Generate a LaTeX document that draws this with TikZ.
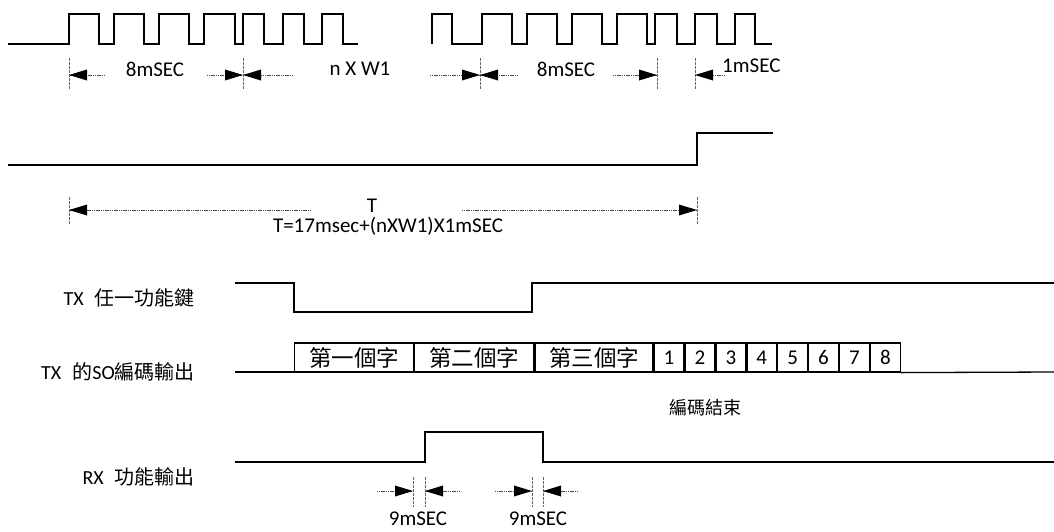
\documentclass[tikz,border=0pt]{standalone}
\usepackage{fontspec}
\setmainfont{Carlito}
\newfontfamily\cjk{Noto Sans CJK TC}
\newcommand\headL[1]{\fill[black] (#1) -- ++(18,-5.5) -- ++(0,11) -- cycle;}
\newcommand\headR[1]{\fill[black] (#1) -- ++(-18,-5.5) -- ++(0,11) -- cycle;}
\tikzset{
  sig/.style={draw=black, line width=1.3pt, line join=miter},
  tickline/.style={draw=black!60, line width=0.8pt, dash pattern=on 3pt off 1pt},
  arr/.style={draw=black!70, line width=1pt, dash pattern=on 1.2pt off 0.6pt},
  lbl/.style={inner sep=0pt, font=\fontsize{21pt}{22pt}\selectfont},
  sidelbl/.style={inner sep=0pt, anchor=east, font=\fontsize{20pt}{22pt}\selectfont},
  cell/.style={draw=black, line width=1.2pt, inner sep=0pt, minimum height=29pt, anchor=west},
  cjkcell/.style={cell, font=\cjk\fontsize{22.5pt}{23pt}\selectfont},
  numcell/.style={cell, minimum width=29.7pt, font=\fontsize{21pt}{22pt}\selectfont},
}
\begin{document}
\begin{tikzpicture}[x=1pt,y=-1pt]
\useasboundingbox (0,0) rectangle (1054,531);
% ---------- top pulse trains
\draw[sig] (8,44) foreach \r/\f in {69/99,114/144,159/189,204/235,243/264,283/304,322/343} { -- (\r,44) -- (\r,14) -- (\f,14) -- (\f,44) } -- (358,44);
\draw[sig] (432,44) -- (432,14) -- (452,14) -- (452,44) foreach \r/\f in {482/512,527/557,572/602,617/647,655/677,695/717,735/755} { -- (\r,44) -- (\r,14) -- (\f,14) -- (\f,44) } -- (772,44);
% ticks top
\foreach \n/\x in {ta/69,tb/243,tc/480,td/657,te/695} {
  \coordinate (\n top) at (\x,58);
  \coordinate (\n bot) at (\x,90);
  \coordinate (\n) at (\x,75);
  \draw[tickline] (\n top) -- (\n bot);
}
\coordinate (a1) at (105,75);
\coordinate (a2) at (207,75);
\coordinate (a3) at (293,75);
\coordinate (a4) at (430,75);
\coordinate (a5) at (518,75);
\coordinate (a6) at (613,75);
\coordinate (a7) at (725,75);
\draw[arr] (a1) -- (ta); \headL{ta}
\draw[arr] (a2) -- (tb); \headR{tb}
\draw[arr] (a3) -- (tb); \headL{tb}
\draw[arr] (a4) -- (tc); \headR{tc}
\draw[arr] (a5) -- (tc); \headL{tc}
\draw[arr] (a6) -- (td); \headR{td}
\draw[arr] (a7) -- (te); \headL{te}
\node[lbl] (l8a) at (155,69) {8mSEC};
\node[lbl] (lnw) at (360,69) {n X W1};
\node[lbl] (l8b) at (566,69) {8mSEC};
\node[lbl, anchor=west] (l1m) at (722,66) {1mSEC};
% ---------- middle step
\draw[sig] (8,165) -- (697,165) -- (697,133) -- (773,133);
\coordinate (Ta top) at (69,197);
\coordinate (Ta bot) at (69,225);
\coordinate (Tb top) at (697,197);
\coordinate (Tb bot) at (697,225);
\draw[tickline] (Ta top) -- (Ta bot);
\draw[tickline] (Tb top) -- (Tb bot);
\coordinate (Ta) at (69,210);
\coordinate (Tb) at (697,210);
\coordinate (Tl) at (311,210);
\coordinate (Tr) at (462,210);
\draw[arr] (Tl) -- (Ta); \headL{Ta}
\draw[arr] (Tr) -- (Tb); \headR{Tb}
\node[lbl] (lT) at (372,206) {T};
\node[lbl] (lTf) at (388,226) {T=17msec+(nXW1)X1mSEC};
% ---------- TX key
\node[sidelbl] (s1) at (195,298) {TX\hspace{0.55em}{\cjk 任一功能鍵}};
\draw[sig] (235,283) -- (294,283) -- (294,312) -- (532,312) -- (532,283) -- (1054,283);
% ---------- TX SO output
\node[sidelbl] (s2) at (195,372) {TX\hspace{0.55em}{\cjk 的}SO{\cjk 編碼輸出}};
\draw[sig] (235,372) -- (294,372);
\node[cjkcell, minimum width=119pt] (c1) at (294,357.5) {第一個字};
\node[cjkcell, minimum width=119pt] (c2) at (c1.east) {第二個字};
\node[cjkcell, minimum width=118pt] (c3) at (c2.east) {第三個字};
\node[numcell] (d1) at (c3.east) {1};
\node[numcell] (d2) at (d1.east) {2};
\node[numcell] (d3) at (d2.east) {3};
\node[numcell] (d4) at (d3.east) {4};
\node[numcell] (d5) at (d4.east) {5};
\node[numcell] (d6) at (d5.east) {6};
\node[numcell] (d7) at (d6.east) {7};
\node[numcell] (d8) at (d7.east) {8};
\draw[sig] (d8.south east) -- (1054,372);
\node[inner sep=0pt, font=\cjk\fontsize{18pt}{20pt}\selectfont] (end) at (705,408) {編碼結束};
% ---------- RX output
\node[sidelbl] (s3) at (195,477) {RX\hspace{0.55em}{\cjk 功能輸出}};
\draw[sig] (235,462) -- (425,462) -- (425,432) -- (543,432) -- (543,462) -- (1054,462);
\foreach \n/\x in {ra/413,rb/425,rc/532,rd/543} {
  \coordinate (\n top) at (\x,477);
  \coordinate (\n bot) at (\x,507);
  \coordinate (\n) at (\x,491);
  \draw[tickline] (\n top) -- (\n bot);
}
\coordinate (r1) at (377,491);
\coordinate (r2) at (460,491);
\coordinate (r3) at (495,491);
\coordinate (r4) at (578,491);
\draw[arr] (r1) -- (ra); \headR{ra}
\draw[arr] (r2) -- (rb); \headL{rb}
\draw[arr] (r3) -- (rc); \headR{rc}
\draw[arr] (r4) -- (rd); \headL{rd}
\node[lbl] (n9a) at (418,519) {9mSEC};
\node[lbl] (n9b) at (538,519) {9mSEC};
\end{tikzpicture}
\end{document}
